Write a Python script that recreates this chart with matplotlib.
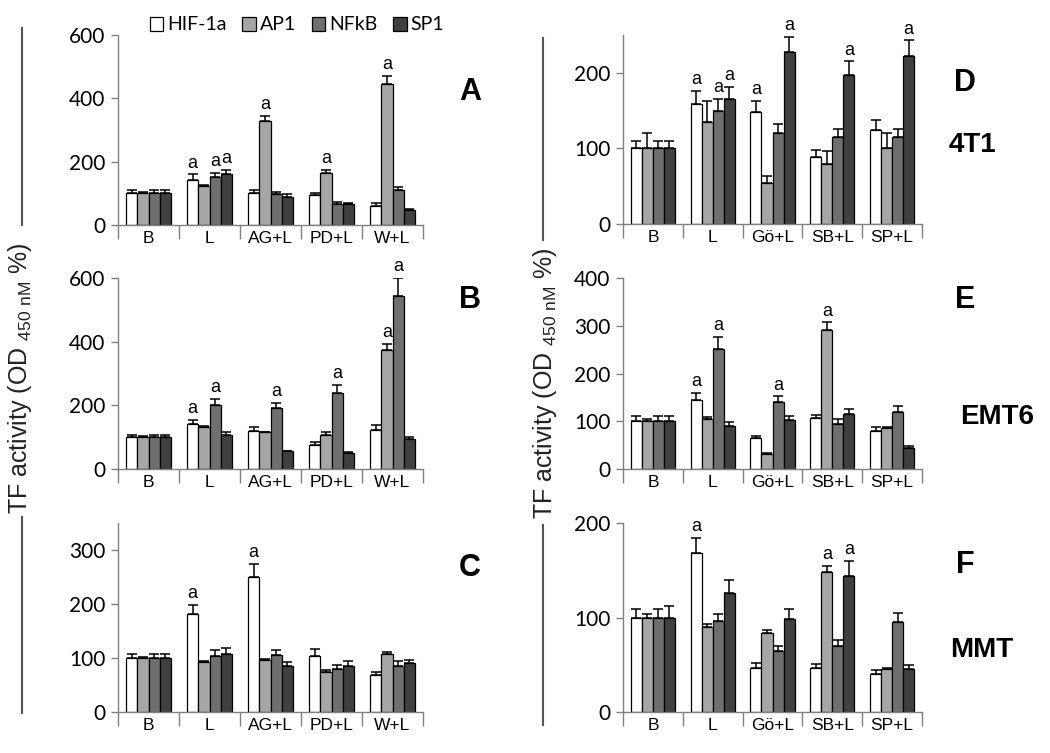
import numpy as np
import matplotlib.pyplot as plt
from matplotlib.lines import Line2D

plt.rcParams['font.family'] = ['Liberation Sans', 'DejaVu Sans']
plt.rcParams['mathtext.fontset'] = 'custom'
plt.rcParams['mathtext.rm'] = 'Liberation Sans'

series = ['HIF-1a', 'AP1', 'NFkB', 'SP1']
colors = ['white', '#a6a6a6', '#6f6f6f', '#404040']

groups_left = ['B', 'L', 'AG+L', 'PD+L', 'W+L']
groups_right = ['B', 'L', 'Gö+L', 'SB+L', 'SP+L']

# rows: HIF-1a, AP1, NFkB, SP1 ; columns: groups
a_mean = [[100, 143, 100, 94, 60], [100, 123, 328, 165, 445],
          [100, 151, 97, 66, 112], [100, 161, 88, 65, 47]]
a_err = [[12, 17, 12, 8, 8], [3, 2, 16, 8, 25],
         [10, 14, 8, 8, 8], [10, 12, 10, 3, 2]]
a_sig = [(0, 1), (2, 1), (3, 1), (1, 2), (1, 3), (1, 4)]

b_mean = [[100, 142, 118, 76, 124], [100, 132, 115, 108, 375],
          [100, 200, 191, 239, 542], [100, 108, 55, 50, 94]]
b_err = [[8, 12, 13, 8, 13], [3, 2, 2, 8, 17],
         [8, 21, 16, 25, 58], [8, 8, 2, 2, 8]]
b_sig = [(0, 1), (2, 1), (2, 2), (2, 3), (1, 4), (2, 4)]

c_mean = [[100, 181, 250, 103, 69], [100, 92, 96, 75, 108],
          [100, 103, 105, 80, 85], [100, 108, 85, 85, 90]]
c_err = [[8, 18, 24, 13, 6], [2, 2, 2, 2, 4],
         [8, 12, 10, 7, 10], [8, 10, 8, 10, 7]]
c_sig = [(0, 1), (0, 2)]

d_mean = [[100, 159, 148, 89, 125], [100, 135, 54, 80, 100],
          [100, 150, 120, 115, 115], [100, 165, 227, 197, 222]]
d_err = [[10, 17, 15, 9, 12], [20, 28, 10, 16, 20],
         [10, 15, 12, 11, 11], [10, 16, 21, 18, 21]]
d_sig = [(0, 1), (2, 1), (3, 1), (0, 2), (3, 2), (3, 3), (3, 4)]

e_mean = [[100, 144, 64, 106, 80], [100, 104, 32, 292, 86],
          [100, 251, 141, 95, 120], [100, 91, 103, 115, 44]]
e_err = [[12, 15, 5, 7, 7], [5, 5, 1, 15, 1],
         [12, 25, 11, 10, 12], [12, 8, 8, 11, 5]]
e_sig = [(0, 1), (2, 1), (2, 2), (1, 3)]

f_mean = [[100, 168, 47, 47, 40], [100, 90, 84, 148, 46],
          [100, 96, 65, 70, 95], [100, 126, 98, 144, 45]]
f_err = [[9, 16, 5, 4, 4], [4, 3, 3, 7, 1],
         [9, 8, 5, 6, 10], [12, 14, 11, 16, 5]]
f_sig = [(0, 1), (1, 3), (3, 3)]

W, H = 1050, 753
gray = '#808080'


def rect(l, r, top, bottom):
    return [l / W, 1 - bottom / H, (r - l) / W, (bottom - top) / H]


def draw(ax, mean, err, sig, groups, ymax, yticks):
    x = np.arange(len(groups))
    w = 0.185
    for i in range(4):
        xs = x + 0.5 + (i - 1.5) * w
        ax.bar(xs, mean[i], w, color=colors[i], edgecolor='black', linewidth=0.9,
               label=series[i], zorder=2)
        ax.errorbar(xs, mean[i], yerr=[np.zeros(len(groups)), err[i]], fmt='none',
                    ecolor='black', elinewidth=1.1, capsize=3.5, capthick=1.1, zorder=3)
    for s, g in sig:
        xs = g + 0.5 + (s - 1.5) * w
        ax.annotate('a', (xs, mean[s][g] + err[s][g]), xytext=(0, 2),
                    textcoords='offset points', ha='center', va='bottom', fontsize=13)
    ax.set_xlim(0, len(groups))
    ax.set_ylim(0, ymax)
    ax.set_yticks(yticks)
    ax.set_yticklabels([str(t) for t in yticks], family='Lato', fontsize=15)
    ax.set_xticks(range(len(groups) + 1))
    ax.set_xticklabels([])
    ax.set_xticks(x + 0.5, minor=True)
    ax.set_xticklabels(groups, minor=True, fontsize=12.5)
    ax.tick_params(axis='x', which='major', length=10, color=gray, width=1)
    ax.tick_params(axis='x', which='minor', length=0, pad=4)
    ax.tick_params(axis='y', length=5, color=gray, width=1, pad=4)
    for sp in ['top', 'right']:
        ax.spines[sp].set_visible(False)
    for sp in ['left', 'bottom']:
        ax.spines[sp].set_color(gray)
        ax.spines[sp].set_linewidth(1)


fig = plt.figure(figsize=(10.5, 7.53), dpi=100)

axA = fig.add_axes(rect(118, 423, 35, 225))
draw(axA, a_mean, a_err, a_sig, groups_left, 600, [0, 200, 400, 600])
axB = fig.add_axes(rect(118, 423, 278, 469))
draw(axB, b_mean, b_err, b_sig, groups_left, 600, [0, 200, 400, 600])
axC = fig.add_axes(rect(118, 423, 523, 712))
draw(axC, c_mean, c_err, c_sig, groups_left, 350, [0, 100, 200, 300])
axD = fig.add_axes(rect(623, 922, 35, 224))
draw(axD, d_mean, d_err, d_sig, groups_right, 250, [0, 100, 200])
axE = fig.add_axes(rect(623, 922, 278, 469))
draw(axE, e_mean, e_err, e_sig, groups_right, 400, [0, 100, 200, 300, 400])
axF = fig.add_axes(rect(623, 922, 523, 712))
draw(axF, f_mean, f_err, f_sig, groups_right, 200, [0, 100, 200])

handles, labels = axA.get_legend_handles_labels()
fig.legend(handles, labels, loc='center', bbox_to_anchor=(297 / W, 1 - 25 / H), ncol=4,
           frameon=False, prop={'family': 'Lato', 'size': 14}, handlelength=0.7,
           handleheight=0.7, handletextpad=0.2, columnspacing=0.8)

# panel letters and cell line names
for txt, px, py, fs in [('A', 470, 92, 22), ('B', 470, 300, 22), ('C', 470, 568, 22),
                        ('D', 965, 83, 22), ('E', 965, 300, 22), ('F', 965, 565, 22),
                        ('4T1', 972, 145, 20), ('EMT6', 997, 417, 20), ('MMT', 982, 650, 20)]:
    fig.text(px / W, 1 - py / H, txt, fontsize=fs, fontweight='bold', ha='center', va='center')

ylab = r'TF activity (OD $_{\mathregular{450\ nM}}$ %)'
fig.text(20 / W, 1 - 378 / H, ylab, rotation=90, fontsize=18, ha='center', va='center',
         color='#222222')
fig.text(545 / W, 1 - 383 / H, ylab, rotation=90, fontsize=18, ha='center', va='center',
         color='#222222')

for lx, y0, y1 in [(22, 28, 225), (22, 517, 713), (543, 38, 240), (543, 525, 725)]:
    fig.add_artist(Line2D([lx / W, lx / W], [1 - y0 / H, 1 - y1 / H], color='#555555',
                          linewidth=1.5, transform=fig.transFigure))

fig.savefig('out.png', dpi=100)
